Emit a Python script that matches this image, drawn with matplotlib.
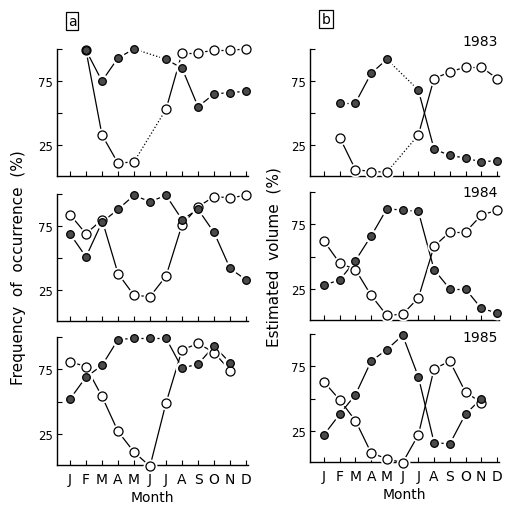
import numpy as np
import matplotlib
matplotlib.use("Agg")
import matplotlib.pyplot as plt

nan = np.nan
months = ["J", "F", "M", "A", "M", "J", "J", "A", "S", "O", "N", "D"]
years = ["1983", "1984", "1985"]

# Panel a: frequency of occurrence (%)
freq_1983_filled = [nan, 99, 75, 93, 100, nan, 92, 85, 55, 65, 66, 67]
freq_1983_open = [nan, 99, 33, 11, 12, nan, 53, 97, 97, 99, 99, 100]
freq_1984_filled = [69, 51, 78, 88, 99, 94, 99, 80, 88, 70, 42, 33]
freq_1984_open = [84, 69, 80, 38, 21, 20, 36, 76, 90, 98, 97, 99]
freq_1985_filled = [52, 69, 78, 98, 99, 99, 99, 76, 79, 93, 80, nan]
freq_1985_open = [81, 77, 54, 27, 11, 0, 49, 90, 95, 88, 74, nan]

# Panel b: estimated volume (%)
vol_1983_filled = [nan, 58, 58, 81, 92, nan, 68, 22, 17, 15, 12, 13]
vol_1983_open = [nan, 31, 6, 4.5, 4, nan, 33, 77, 82, 86, 86, 77]
vol_1984_filled = [28, 32, 47, 66, 87, 86, 85, 40, 25, 25, 10, 6.5]
vol_1984_open = [62, 45, 40, 20, 4.5, 5.5, 18, 58, 69, 69, 82, 86]
vol_1985_filled = [22, 38, 53, 79, 88, 99, 67, 16, 15, 38, 50, nan]
vol_1985_open = [63, 49, 33, 8, 3.5, 0.5, 22, 73, 79, 55, 47, nan]

freq = [(freq_1983_filled, freq_1983_open), (freq_1984_filled, freq_1984_open),
        (freq_1985_filled, freq_1985_open)]
vol = [(vol_1983_filled, vol_1983_open), (vol_1984_filled, vol_1984_open),
       (vol_1985_filled, vol_1985_open)]

W, H = 507, 506
fig = plt.figure(figsize=(W / 100, H / 100), dpi=100)
plt.rcParams['font.family'] = ['DejaVu Sans']

def ax_at(x0, y0, x1, y1):
    return fig.add_axes([x0 / W, 1 - y1 / H, (x1 - x0) / W, (y1 - y0) / H])

left_rows = [(50, 177), (195, 322), (338, 466)]
right_rows = [(50, 177), (193, 321), (335, 463)]

def draw_series(ax, vals, filled):
    x = np.arange(1, 13)
    v = np.array(vals, dtype=float)
    idx = [i for i in range(12) if not np.isnan(v[i])]
    for a, b in zip(idx[:-1], idx[1:]):
        ls = '-' if b - a == 1 else ':'
        ax.plot([x[a], x[b]], [v[a], v[b]], color='black', lw=0.9, ls=ls,
                zorder=2, clip_on=False)
    xs = x[idx]; ys = v[idx]
    ax.plot(xs, ys, 'o', ms=10, mfc='white', mec='white', mew=0, zorder=3,
            clip_on=False)
    if filled:
        ax.plot(xs, ys, 'o', ms=5.5, mfc='#4a4a4a', mec='black', mew=0.9,
                zorder=5, clip_on=False)
    else:
        ax.plot(xs, ys, 'o', ms=6.5, mfc='white', mec='black', mew=0.9,
                zorder=4, clip_on=False)

def style(ax, xlim, bottom):
    ax.set_xlim(*xlim)
    ax.set_ylim(1, 100)
    for s in ['top', 'right']:
        ax.spines[s].set_visible(False)
    for s in ['left', 'bottom']:
        ax.spines[s].set_linewidth(1.0)
    ax.set_yticks([25, 50, 75, 100])
    ax.set_yticklabels(['25', '', '75', ''], fontsize=8.5)
    ax.set_xticks(np.arange(1, 13))
    if bottom:
        ax.set_xticklabels(months, fontsize=10)
        ax.set_xlabel('Month', fontsize=10, labelpad=3)
    else:
        ax.set_xticklabels([])
    ax.tick_params(direction='in', length=3.5, width=0.8, pad=3)
    ax.tick_params(axis='x', pad=5)

for r in range(3):
    y0, y1 = left_rows[r]
    ax = ax_at(57, y0, 248, y1)
    style(ax, (0.19, 12.12), r == 2)
    draw_series(ax, freq[r][1], False)
    draw_series(ax, freq[r][0], True)

    y0, y1 = right_rows[r]
    ax2 = ax_at(310, y0, 499, y1)
    style(ax2, (0.11, 12.13), r == 2)
    draw_series(ax2, vol[r][1], False)
    draw_series(ax2, vol[r][0], True)
    ycen = [42, 193, 338][r]
    fig.text(498 / W, 1 - ycen / H, years[r], ha='right', va='center', fontsize=10)

fig.text(72 / W, 1 - 22 / H, 'a', ha='center', va='center', fontsize=10,
         bbox=dict(boxstyle='square,pad=0.15', fc='white', ec='black', lw=0.9))
fig.text(326 / W, 1 - 20 / H, 'b', ha='center', va='center', fontsize=10,
         bbox=dict(boxstyle='square,pad=0.15', fc='white', ec='black', lw=0.9))

fig.text(19 / W, 1 - 268 / H, 'Frequency  of  occurrence  (%)', rotation=90,
         ha='center', va='center', fontsize=11)
fig.text(274 / W, 1 - 257 / H, 'Estimated  volume  (%)', rotation=90,
         ha='center', va='center', fontsize=11)

fig.savefig('out.png', dpi=100)
